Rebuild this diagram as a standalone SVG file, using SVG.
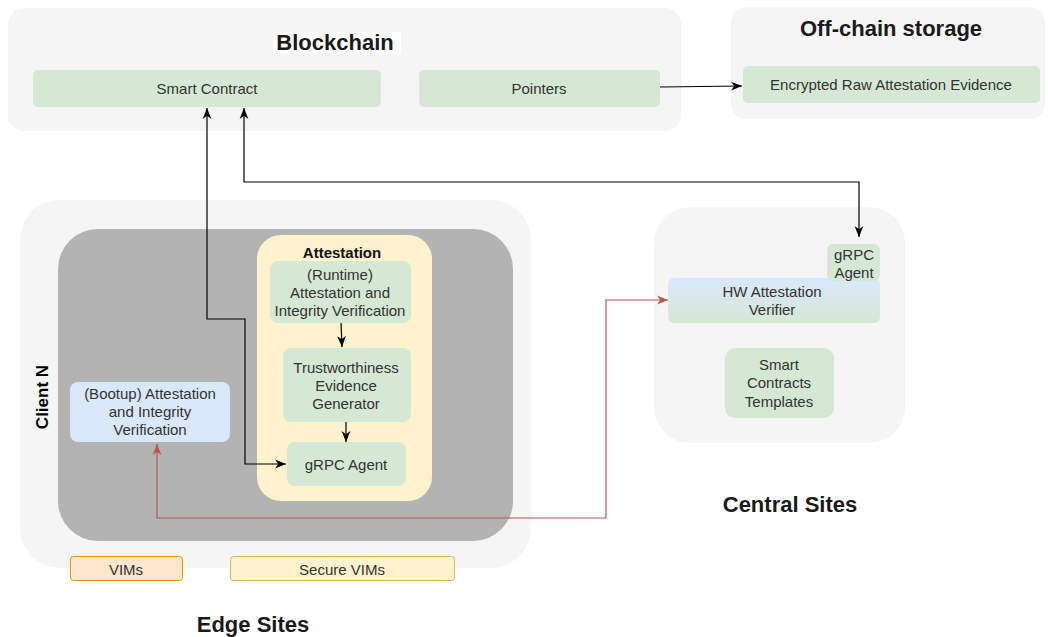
<svg xmlns="http://www.w3.org/2000/svg" width="1048" height="637" viewBox="0 0 1048 637">
  <style>
    text { font-family: "Liberation Sans", Arial, sans-serif; }
    .zone { fill: #f5f5f5; }
    .green { fill: #d5e8d4; }
    .blue { fill: #dae8fc; }
    .lbl { font-size: 15px; fill: #333333; text-anchor: middle; dominant-baseline: central; }
    .title { font-size: 22px; font-weight: bold; fill: #1a1a1a; text-anchor: middle; dominant-baseline: central; }
    .sub { font-size: 15px; font-weight: bold; fill: #111111; text-anchor: middle; dominant-baseline: central; }
    .wire { fill: none; stroke: #000000; stroke-width: 1.2; }
    .wire-red { fill: none; stroke: #b85450; stroke-width: 1.2; }
  </style>
  <defs>
    <marker id="arrow" viewBox="0 0 10 10" refX="10" refY="5" markerWidth="11" markerHeight="11" markerUnits="userSpaceOnUse" orient="auto-start-reverse">
      <path d="M0,1 L10,5 L0,9 L3,5 z" fill="#000000"/>
    </marker>
    <marker id="arrow-red" viewBox="0 0 10 10" refX="10" refY="5" markerWidth="11" markerHeight="11" markerUnits="userSpaceOnUse" orient="auto-start-reverse">
      <path d="M0,1 L10,5 L0,9 L3,5 z" fill="#b85450"/>
    </marker>
    <linearGradient id="hwGrad" x1="0" y1="0" x2="0" y2="1">
      <stop offset="0" stop-color="#dae8fc"/>
      <stop offset="1" stop-color="#d5e8d4"/>
    </linearGradient>
  </defs>

  <rect width="1048" height="637" fill="#ffffff"/>

  <!-- Blockchain -->
  <g id="blockchain">
    <rect class="zone" x="8" y="8" width="673" height="123" rx="16"/>
    <rect x="273" y="32" width="128" height="22" fill="#ffffff"/>
    <text class="title" x="335" y="42">Blockchain</text>
  </g>
  <g id="smart-contract">
    <rect class="green" x="33" y="70" width="348" height="37" rx="5"/>
    <text class="lbl" x="207" y="88">Smart Contract</text>
  </g>
  <g id="pointers">
    <rect class="green" x="419" y="70" width="241" height="37" rx="5"/>
    <text class="lbl" x="539" y="88">Pointers</text>
  </g>

  <!-- Off-chain storage -->
  <g id="offchain">
    <rect class="zone" x="731" y="7" width="314" height="112" rx="16"/>
    <text class="title" x="891" y="28">Off-chain storage</text>
  </g>
  <g id="encrypted-evidence">
    <rect class="green" x="743" y="66" width="297" height="37" rx="5"/>
    <text class="lbl" x="891" y="84">Encrypted Raw Attestation Evidence</text>
  </g>

  <!-- Edge sites -->
  <g id="edge-sites">
    <rect class="zone" x="20" y="200" width="511" height="368" rx="40"/>
    <text class="title" x="253" y="624">Edge Sites</text>
  </g>
  <g id="client-n">
    <rect x="58" y="229" width="455" height="312" rx="40" fill="#b3b3b3"/>
    <text x="42" y="397" font-size="17" font-weight="bold" fill="#000000" text-anchor="middle" dominant-baseline="central" transform="rotate(-90 42 397)">Client N</text>
  </g>
  <g id="attestation">
    <rect x="257" y="235" width="175" height="266" rx="24" fill="#fff2cc"/>
    <text class="sub" x="342" y="252">Attestation</text>
  </g>
  <g id="runtime-verification">
    <rect class="green" x="270" y="261" width="141" height="62" rx="8"/>
    <text class="lbl" x="340" y="274">(Runtime)</text>
    <text class="lbl" x="340" y="292">Attestation and</text>
    <text class="lbl" x="340" y="310">Integrity Verification</text>
  </g>
  <g id="evidence-generator">
    <rect class="green" x="283" y="348" width="128" height="74" rx="8"/>
    <text class="lbl" x="346" y="367">Trustworthiness</text>
    <text class="lbl" x="346" y="385">Evidence</text>
    <text class="lbl" x="346" y="403">Generator</text>
  </g>
  <g id="grpc-edge">
    <rect class="green" x="287" y="442" width="119" height="44" rx="8"/>
    <text class="lbl" x="346" y="464">gRPC Agent</text>
  </g>
  <g id="bootup-verification">
    <rect class="blue" x="70" y="382" width="160" height="60" rx="8"/>
    <text class="lbl" x="150" y="393">(Bootup) Attestation</text>
    <text class="lbl" x="150" y="411">and Integrity</text>
    <text class="lbl" x="150" y="429">Verification</text>
  </g>
  <g id="vims">
    <rect x="70.5" y="556.5" width="112" height="24" rx="3" fill="#ffe6cc" stroke="#d79b00" stroke-width="1"/>
    <text class="lbl" x="126" y="569">VIMs</text>
  </g>
  <g id="secure-vims">
    <rect x="230.5" y="556.5" width="224" height="24" rx="3" fill="#fff2cc" stroke="#d6b656" stroke-width="1"/>
    <text class="lbl" x="342" y="569">Secure VIMs</text>
  </g>

  <!-- Central sites -->
  <g id="central-sites">
    <rect class="zone" x="654" y="207" width="251" height="236" rx="36"/>
    <text class="title" x="790" y="504">Central Sites</text>
  </g>
  <g id="hw-verifier">
    <rect x="668" y="278" width="212" height="45" rx="6" fill="url(#hwGrad)"/>
    <text class="lbl" x="772" y="291">HW Attestation</text>
    <text class="lbl" x="772" y="309">Verifier</text>
  </g>
  <g id="grpc-central">
    <rect class="green" x="827" y="244" width="53" height="37" rx="6"/>
    <text class="lbl" x="854" y="254">gRPC</text>
    <text class="lbl" x="854" y="272">Agent</text>
  </g>
  <g id="contract-templates">
    <rect class="green" x="725" y="348" width="109" height="70" rx="10"/>
    <text class="lbl" x="779" y="364">Smart</text>
    <text class="lbl" x="779" y="382">Contracts</text>
    <text class="lbl" x="779" y="401">Templates</text>
  </g>

  <!-- Connectors -->
  <g id="connectors">
    <path class="wire" d="M660,87 L742,86" marker-end="url(#arrow)"/>
    <path class="wire" d="M341,323 L342,347" marker-end="url(#arrow)"/>
    <path class="wire" d="M346,422 L346,442" marker-end="url(#arrow)"/>
    <path class="wire" d="M207,108 V319 H245 V464 H286" marker-start="url(#arrow)" marker-end="url(#arrow)"/>
    <path class="wire" d="M244,108 V182 H859 V237" marker-start="url(#arrow)" marker-end="url(#arrow)"/>
    <path class="wire-red" d="M157,444 V518 H606 V300 H668" marker-start="url(#arrow-red)" marker-end="url(#arrow-red)"/>
  </g>
</svg>
